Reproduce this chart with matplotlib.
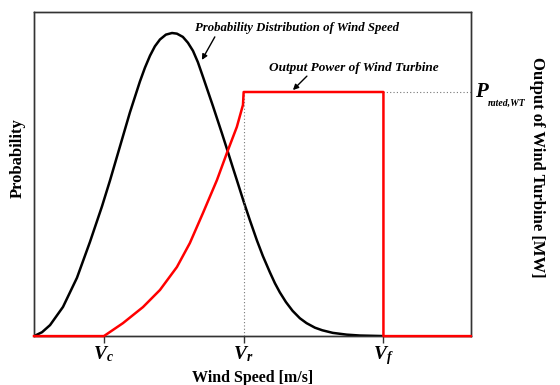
import matplotlib
matplotlib.use("Agg")
import matplotlib.pyplot as plt

# wind speed pdf (speed axis 0..25, probability 0..1)
speed_pdf = [0.0, 0.46, 0.92, 1.66, 2.46, 3.2, 3.89, 4.35, 4.92, 5.49, 6.06, 6.35, 6.64,
             6.92, 7.21, 7.55, 7.9, 8.18, 8.52, 8.81, 9.1, 9.38, 9.67, 10.24, 10.76,
             11.04, 11.38, 11.6, 12.0, 12.36, 12.76, 13.1, 13.5, 13.79, 14.07, 14.42,
             14.8, 15.22, 15.6, 16.08, 16.5, 17.1, 17.9, 18.65, 19.8, 20.0]
prob_pdf = [0.0, 0.012, 0.034, 0.09, 0.18, 0.29, 0.40, 0.48, 0.585, 0.69, 0.785, 0.828, 0.865,
            0.894, 0.915, 0.93, 0.935, 0.933, 0.923, 0.905, 0.88, 0.845, 0.80, 0.71, 0.625,
            0.578, 0.52, 0.483, 0.415, 0.357, 0.295, 0.247, 0.197, 0.163, 0.135, 0.105,
            0.078, 0.055, 0.04, 0.026, 0.018, 0.01, 0.0045, 0.0018, 0.0004, 0.0]

# turbine output (per unit of rated power)
speed_pow = [0.0, 4.0, 5.09, 6.24, 7.21, 8.18, 8.92, 9.67, 10.47, 11.04, 11.61, 11.96,
             12.0, 20.0, 20.0, 25.0]
power = [0.0, 0.0, 0.053, 0.119, 0.189, 0.283, 0.381, 0.504, 0.639, 0.75, 0.857, 0.947,
         1.0, 1.0, 0.0, 0.0]

v_cut_in = 4.0
v_rated = 12.0
v_cut_out = 20.0
p_rated = 1.0
tick_labels = [r'$V_c$', r'$V_r$', r'$V_f$']

plt.rcParams['font.family'] = ['Liberation Serif', 'DejaVu Serif']
plt.rcParams['font.weight'] = 'bold'
plt.rcParams['mathtext.fontset'] = 'custom'
plt.rcParams['mathtext.it'] = 'Liberation Serif:italic:bold'
plt.rcParams['mathtext.rm'] = 'Liberation Serif:bold'
plt.rcParams['mathtext.bf'] = 'Liberation Serif:bold'

fig = plt.figure(figsize=(5.6, 3.85), dpi=100)
ax1 = fig.add_axes([0.0607, 0.127, 0.780, 0.842])
ax2 = ax1.twinx()

ax1.set_xlim(0, 25)
ax1.set_ylim(0, 1.0)
ax2.set_ylim(0, 1.328)

for a in (ax1, ax2):
    for s in a.spines.values():
        s.set_color('#333333')
        s.set_linewidth(1.0)
    a.set_yticks([])

ax1.plot(speed_pdf, prob_pdf, color='black', lw=1.8, zorder=3,
         solid_joinstyle='round', solid_capstyle='round')
ax2.plot(speed_pow, power, color='#ff0000', lw=1.8, clip_on=False, zorder=5,
         solid_joinstyle='round')

# dotted helper lines
ax2.plot([v_rated, v_rated], [0, p_rated], color='#777777', lw=0.8, ls=(0, (1, 2)), zorder=2)
ax2.plot([v_cut_out, 25], [p_rated, p_rated], color='#777777', lw=0.8, ls=(0, (1, 2)), zorder=2)

ax1.set_xticks([v_cut_in, v_rated, v_cut_out])
ax1.set_xticklabels(tick_labels, fontsize=14)
ax1.tick_params(axis='x', direction='out', length=5, width=1, color='#333333', pad=1)

ax1.set_xlabel('Wind Speed [m/s]', fontsize=11.5, fontweight='bold', labelpad=2)
ax1.set_ylabel('Probability', fontsize=12, fontweight='bold')
ax1.yaxis.set_label_coords(-0.019, 0.55)
ax2.set_ylabel('Output of Wind Turbine [MW]', fontsize=12, fontweight='bold',
               rotation=-90, labelpad=0)
ax2.yaxis.set_label_coords(1.17, 0.52)

# P_rated,WT label: big P, small subscript
ax2.text(25.25, p_rated, 'P', fontsize=15, style='italic', fontweight='bold',
         va='center', ha='left')
ax2.text(26.0, p_rated - 0.045, 'rated,WT', fontsize=7, style='italic', fontweight='bold',
         va='center', ha='left')

ax1.text(9.21, 0.951, 'Probability Distribution of Wind Speed', fontsize=9.2,
         fontweight='bold', style='italic', ha='left', va='center')
ax1.annotate('', xy=(9.61, 0.852), xytext=(10.35, 0.923),
             arrowprops=dict(arrowstyle='-|>', color='black', lw=1.0, mutation_scale=8,
                             shrinkA=0, shrinkB=0))
ax1.text(13.44, 0.827, 'Output Power of Wind Turbine', fontsize=9.5,
         fontweight='bold', style='italic', ha='left', va='center')
ax1.annotate('', xy=(14.82, 0.759), xytext=(15.62, 0.802),
             arrowprops=dict(arrowstyle='-|>', color='black', lw=1.0, mutation_scale=8,
                             shrinkA=0, shrinkB=0))

fig.savefig('out.png', dpi=100)
